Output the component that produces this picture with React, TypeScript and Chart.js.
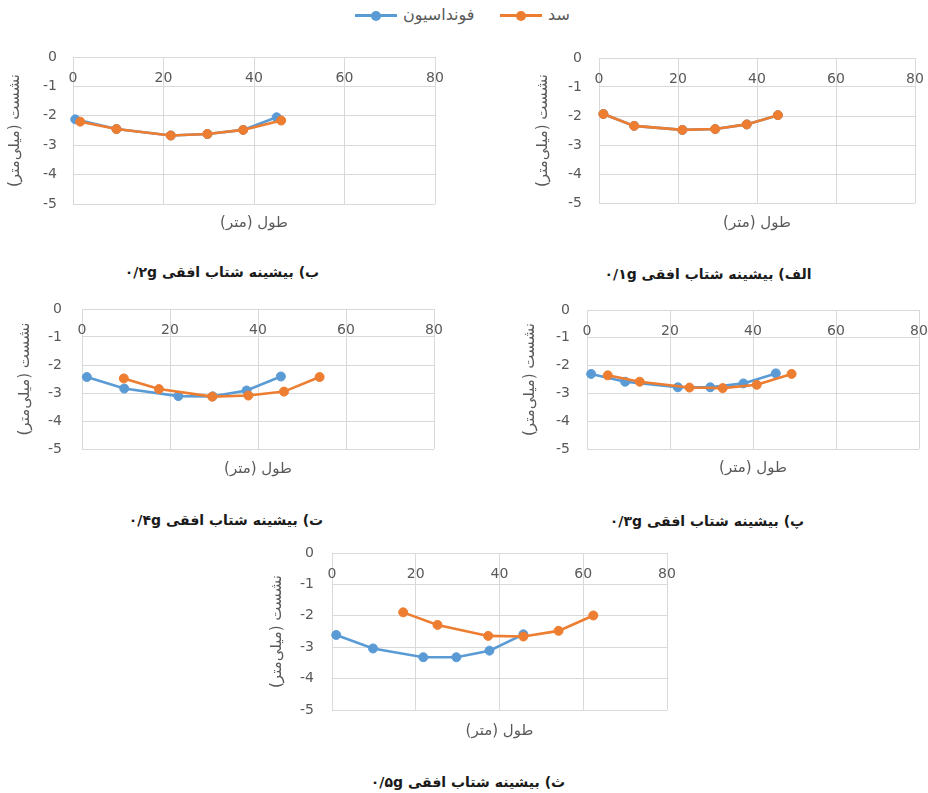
import React, { useEffect, useRef } from "react";
import { Chart, registerables } from "chart.js";

Chart.register(...registerables);

// ---------- labels ----------
const FOUND_LABEL = "فونداسیون";
const DAM_LABEL = "سد";
const X_TITLE = "طول (متر)";
const Y_TITLE = "نشست (میلی‌متر)";

// ---------- axis ticks ----------
const X_TICKS = [0, 20, 40, 60, 80];
const Y_TICKS = [0, -1, -2, -3, -4, -5];

// ---------- الف) 0.1g ----------
const foundX_01 = [1.1, 8.9, 21.1, 29.4, 37.4, 45.3];
const foundY_01 = [-1.93, -2.34, -2.48, -2.45, -2.29, -1.97];
const damX_01 = [1.1, 8.9, 21.1, 29.4, 37.4, 45.3];
const damY_01 = [-1.93, -2.34, -2.48, -2.45, -2.29, -1.97];

// ---------- ب) 0.2g ----------
const foundX_02 = [0.5, 9.6, 21.6, 29.7, 37.6, 45.0];
const foundY_02 = [-2.12, -2.45, -2.67, -2.62, -2.48, -2.05];
const damX_02 = [1.6, 9.6, 21.6, 29.7, 37.6, 46.0];
const damY_02 = [-2.2, -2.45, -2.67, -2.62, -2.48, -2.16];

// ---------- پ) 0.3g ----------
const foundX_03 = [1.0, 9.2, 21.9, 29.7, 37.7, 45.5];
const foundY_03 = [-2.3, -2.58, -2.78, -2.78, -2.64, -2.28];
const damX_03 = [5.0, 12.7, 24.7, 32.7, 40.9, 49.3];
const damY_03 = [-2.35, -2.58, -2.79, -2.81, -2.69, -2.3];

// ---------- ت) 0.4g ----------
const foundX_04 = [1.1, 9.6, 21.9, 29.7, 37.4, 45.2];
const foundY_04 = [-2.43, -2.84, -3.11, -3.12, -2.91, -2.41];
const damX_04 = [9.5, 17.5, 29.6, 37.8, 45.9, 54.0];
const damY_04 = [-2.48, -2.86, -3.13, -3.09, -2.95, -2.43];

// ---------- ث) 0.5g ----------
const foundX_05 = [1.0, 9.8, 21.8, 29.7, 37.6, 45.7];
const foundY_05 = [-2.61, -3.04, -3.32, -3.32, -3.11, -2.59];
const damX_05 = [17.0, 25.2, 37.3, 45.7, 54.1, 62.4];
const damY_05 = [-1.89, -2.29, -2.64, -2.66, -2.48, -1.99];

// ---------- captions ----------
const CAP_01 = "الف) بیشینه شتاب افقی ۰/۱g";
const CAP_02 = "ب) بیشینه شتاب افقی ۰/۲g";
const CAP_03 = "پ) بیشینه شتاب افقی ۰/۳g";
const CAP_04 = "ت) بیشینه شتاب افقی ۰/۴g";
const CAP_05 = "ث) بیشینه شتاب افقی ۰/۵g";

// ---------- styles ----------
const BLUE = "#5B9BD5";
const ORANGE = "#ED7D31";
const GRID = "#D9D9D9";
const TEXT = "#595959";
const FONT = "'DejaVu Sans', 'Noto Sans', sans-serif";
const RLM = "\u200F";

const Y_AXIS_W = 70;
const PAD_T = 34;
const PAD_R = 32;
const X2_H = 40;
const TICK_SIZE = 14;
const TITLE_SIZE = 15;
const TITLE_LH = TITLE_SIZE * 1.2;

type Panel = {
  foundX: number[];
  foundY: number[];
  damX: number[];
  damY: number[];
  x0: number;
  x1: number;
  y0: number;
  y1: number;
  yTitleX: number;
  xTitleY: number;
  tickGap: number;
  caption: string;
  capX: number;
  capY: number;
};

const PANELS: Panel[] = [
  { foundX: foundX_01, foundY: foundY_01, damX: damX_01, damY: damY_01, x0: 599, x1: 915, y0: 58, y1: 203, yTitleX: 543, xTitleY: 223, tickGap: 17, caption: CAP_01, capX: 708, capY: 274 },
  { foundX: foundX_02, foundY: foundY_02, damX: damX_02, damY: damY_02, x0: 73, x1: 435, y0: 57, y1: 204, yTitleX: 15, xTitleY: 223, tickGap: 16, caption: CAP_02, capX: 222, capY: 272 },
  { foundX: foundX_03, foundY: foundY_03, damX: damX_03, damY: damY_03, x0: 587, x1: 919, y0: 310, y1: 449, yTitleX: 530, xTitleY: 468, tickGap: 17, caption: CAP_03, capX: 707, capY: 521 },
  { foundX: foundX_04, foundY: foundY_04, damX: damX_04, damY: damY_04, x0: 82, x1: 434, y0: 309, y1: 449, yTitleX: 25, xTitleY: 469, tickGap: 20, caption: CAP_04, capX: 226, capY: 520 },
  { foundX: foundX_05, foundY: foundY_05, damX: damX_05, damY: damY_05, x0: 332, x1: 667, y0: 553, y1: 710, yTitleX: 277, xTitleY: 731, tickGap: 18, caption: CAP_05, capX: 468, capY: 782 },
];

function PanelChart({ p }: { p: Panel }) {
  const ref = useRef<HTMLCanvasElement | null>(null);
  const left = p.x0 - Y_AXIS_W;
  const top = p.y0 - PAD_T;
  const width = Y_AXIS_W + (p.x1 - p.x0) + PAD_R;
  const height = PAD_T + (p.y1 - p.y0) + X2_H;

  useEffect(() => {
    if (!ref.current) return;
    const tickFont = { family: FONT, size: TICK_SIZE };
    const titleFont = { family: FONT, size: TITLE_SIZE };
    const chart = new Chart(ref.current, {
      type: "line",
      data: {
        datasets: [
          {
            label: DAM_LABEL,
            data: p.damX.map((x, i) => ({ x, y: p.damY[i] })),
            borderColor: ORANGE,
            backgroundColor: ORANGE,
            pointBackgroundColor: ORANGE,
            pointBorderColor: ORANGE,
            pointRadius: 4.5,
            pointBorderWidth: 1,
            borderWidth: 2.6,
            tension: 0,
            clip: false as any,
            order: 0,
          },
          {
            label: FOUND_LABEL,
            data: p.foundX.map((x, i) => ({ x, y: p.foundY[i] })),
            borderColor: BLUE,
            backgroundColor: BLUE,
            pointBackgroundColor: BLUE,
            pointBorderColor: BLUE,
            pointRadius: 4.5,
            pointBorderWidth: 1,
            borderWidth: 2.6,
            tension: 0,
            clip: false as any,
            order: 1,
          },
        ],
      },
      options: {
        responsive: false,
        animation: false,
        events: [],
        layout: { padding: { top: PAD_T, right: PAD_R, left: 0, bottom: 0 } },
        plugins: { legend: { display: false }, tooltip: { enabled: false }, title: { display: false } },
        scales: {
          x: {
            type: "linear",
            position: "top",
            min: X_TICKS[0],
            max: X_TICKS[X_TICKS.length - 1],
            ticks: {
              stepSize: X_TICKS[1] - X_TICKS[0],
              mirror: true,
              padding: 13,
              color: TEXT,
              font: tickFont,
              maxRotation: 0,
              autoSkip: false,
            },
            grid: { color: GRID, lineWidth: 1, drawTicks: false },
            border: { display: false },
            afterFit: (s: any) => {
              s.height = 0;
            },
          },
          x2: {
            type: "linear",
            position: "bottom",
            min: X_TICKS[0],
            max: X_TICKS[X_TICKS.length - 1],
            ticks: { display: false },
            grid: { display: false, drawTicks: false },
            border: { display: false },
            title: {
              display: true,
              text: RLM + X_TITLE + RLM,
              color: TEXT,
              font: titleFont,
              padding: { top: 0, bottom: p.y1 + X2_H - TITLE_LH / 2 - p.xTitleY },
            },
            afterFit: (s: any) => {
              s.height = X2_H;
            },
          },
          y: {
            type: "linear",
            position: "left",
            min: Y_TICKS[Y_TICKS.length - 1],
            max: Y_TICKS[0],
            ticks: {
              stepSize: Y_TICKS[0] - Y_TICKS[1],
              padding: p.tickGap,
              color: TEXT,
              font: tickFont,
            },
            grid: { color: GRID, lineWidth: 1, drawTicks: false },
            border: { display: false },
            title: {
              display: true,
              text: RLM + Y_TITLE + RLM,
              color: TEXT,
              font: titleFont,
              padding: { top: p.yTitleX - left - TITLE_LH / 2, bottom: 0 },
            },
            afterFit: (s: any) => {
              s.width = Y_AXIS_W;
            },
          },
        },
      } as any,
    });
    return () => chart.destroy();
  }, []);

  return (
    <>
      <canvas
        ref={ref}
        width={width}
        height={height}
        style={{ position: "absolute", left, top, width, height }}
      />
      <div
        dir="rtl"
        style={{
          position: "absolute",
          left: p.capX - 150,
          top: p.capY - 10,
          width: 300,
          lineHeight: "20px",
          textAlign: "center",
          fontFamily: FONT,
          fontWeight: "bold",
          fontSize: 14,
          color: "#1a1a1a",
          whiteSpace: "nowrap",
        }}
      >
        {p.caption}
      </div>
    </>
  );
}

function LegendItem({ left, color, text }: { left: number; color: string; text: string }) {
  return (
    <div style={{ position: "absolute", left, top: 5, height: 20, display: "flex", alignItems: "center" }}>
      <div style={{ position: "relative", width: 42, height: 20 }}>
        <div style={{ position: "absolute", left: 0, top: 9, width: 42, height: 2.6, background: color }} />
        <div
          style={{
            position: "absolute",
            left: 16,
            top: 5.5,
            width: 10,
            height: 10,
            borderRadius: "50%",
            background: color,
          }}
        />
      </div>
      <span dir="rtl" style={{ marginLeft: 6, fontFamily: FONT, fontSize: 16, color: TEXT, lineHeight: "20px" }}>
        {text}
      </span>
    </div>
  );
}

export default function App() {
  return (
    <div style={{ position: "absolute", left: 0, top: 0, width: 928, height: 793, background: "#fff", overflow: "hidden" }}>
      <LegendItem left={355} color={BLUE} text={FOUND_LABEL} />
      <LegendItem left={500} color={ORANGE} text={DAM_LABEL} />
      {PANELS.map((p, i) => (
        <PanelChart key={i} p={p} />
      ))}
    </div>
  );
}
